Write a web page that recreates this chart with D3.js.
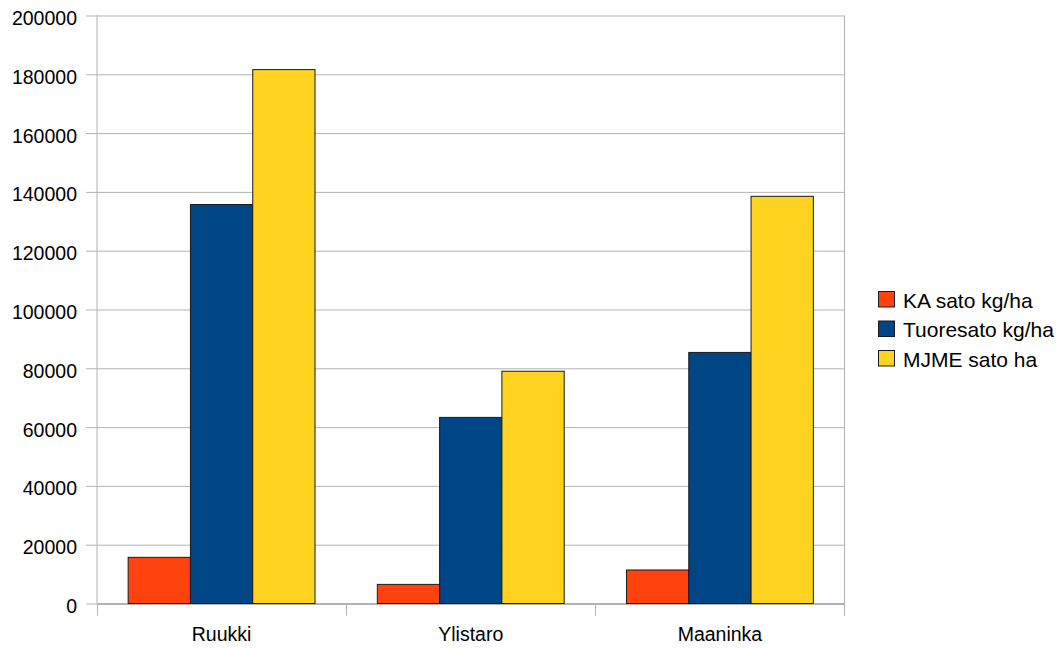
<!DOCTYPE html>
<html>
<head>
<meta charset="utf-8">
<script src="https://cdn.jsdelivr.net/npm/d3@7"></script>
<style>
  html, body { margin: 0; padding: 0; background: #fff; }
  svg { display: block; font-family: "Liberation Sans", Arial, sans-serif; }
</style>
</head>
<body>
<svg id="chart" width="1063" height="648"></svg>
<script>
// Yield per site (three measures)
const categories = ["Ruukki", "Ylistaro", "Maaninka"];
const seriesNames = ["KA sato kg/ha", "Tuoresato kg/ha", "MJME sato ha"];
const kaSato = [15700, 6500, 11400];
const tuoresato = [135700, 63300, 85400];
const mjmeSato = [181600, 79000, 138500];
const yTicks = [0, 20000, 40000, 60000, 80000, 100000, 120000, 140000, 160000, 180000, 200000];
const seriesColors = ["#ff420e", "#004586", "#ffd320"];

const seriesValues = [kaSato, tuoresato, mjmeSato];
const rows = categories.map((c, i) => ({
  category: c,
  values: seriesNames.map((s, j) => ({ series: s, value: seriesValues[j][i] }))
}));

const svg = d3.select("#chart");
const plot = { left: 97, right: 844.5, top: 15.5, bottom: 603.5 };
const axisFont = 19.5;
const legendFont = 21;

const x0 = d3.scaleBand().domain(categories).range([plot.left, plot.right]).padding(0);
const x1 = d3.scaleBand().domain(seriesNames).range([0, x0.bandwidth()])
  .paddingInner(0).paddingOuter(0.5);
const y = d3.scaleLinear().domain([0, 200000]).range([plot.bottom, plot.top]);
const color = d3.scaleOrdinal().domain(seriesNames).range(seriesColors);

// Horizontal gridlines with short ticks left of the axis
const yAxis = d3.axisLeft(y).tickValues(yTicks).tickFormat(d3.format("d"))
  .tickSizeInner(-(plot.right - plot.left)).tickSizeOuter(0).tickPadding(20);
const gy = svg.append("g").attr("transform", `translate(${plot.left},0)`).call(yAxis);
gy.select(".domain").remove();
gy.selectAll(".tick line")
  .attr("x1", -11)
  .attr("stroke", "#b3b3b3");
gy.selectAll(".tick text")
  .attr("x", -20)
  .attr("dy", "0.46em")
  .attr("font-size", axisFont)
  .attr("font-family", "Liberation Sans, Arial, sans-serif")
  .attr("fill", "#000");

// Left and right frame lines
svg.append("line")
  .attr("x1", plot.left).attr("x2", plot.left)
  .attr("y1", plot.top).attr("y2", plot.bottom)
  .attr("stroke", "#b3b3b3");
svg.append("line")
  .attr("x1", plot.right).attr("x2", plot.right)
  .attr("y1", plot.top).attr("y2", plot.bottom + 12)
  .attr("stroke", "#b3b3b3");

// Category axis
const xAxis = d3.axisBottom(x0).tickSize(0);
const gx = svg.append("g").attr("transform", `translate(0,${plot.bottom})`).call(xAxis);
gx.select(".domain").attr("stroke", "#b3b3b3").attr("stroke-width", 2);
gx.selectAll(".tick text")
  .attr("y", 37)
  .attr("dy", 0)
  .attr("font-size", axisFont)
  .attr("font-family", "Liberation Sans, Arial, sans-serif")
  .attr("fill", "#000");
// Category separators
const bounds = categories.map(c => x0(c)).concat([x0(categories[categories.length - 1]) + x0.bandwidth()]);
svg.append("g").selectAll("line").data(bounds).join("line")
  .attr("x1", d => Math.round(d) + 0.5).attr("x2", d => Math.round(d) + 0.5)
  .attr("y1", plot.bottom).attr("y2", plot.bottom + 12)
  .attr("stroke", "#b3b3b3");

// Bars
svg.append("g").selectAll("g").data(rows).join("g")
  .attr("transform", d => `translate(${x0(d.category)},0)`)
  .selectAll("rect").data(d => d.values).join("rect")
  .attr("x", d => x1(d.series))
  .attr("y", d => y(d.value))
  .attr("width", x1.bandwidth())
  .attr("height", d => y(0) - y(d.value))
  .attr("fill", d => color(d.series))
  .attr("stroke", "#1a1a1a")
  .attr("stroke-width", 1);

// Legend
const legend = svg.append("g").attr("transform", "translate(878,291)");
const item = legend.selectAll("g").data(seriesNames).join("g")
  .attr("transform", (d, i) => `translate(0,${i * 29.5})`);
item.append("rect")
  .attr("x", 0.5).attr("y", 0.5).attr("width", 16).attr("height", 15.5)
  .attr("fill", d => color(d))
  .attr("stroke", "#1a1a1a");
item.append("text")
  .attr("x", 25).attr("y", 16.7)
  .attr("font-size", legendFont)
  .attr("fill", "#000")
  .text(d => d);
</script>
</body>
</html>
